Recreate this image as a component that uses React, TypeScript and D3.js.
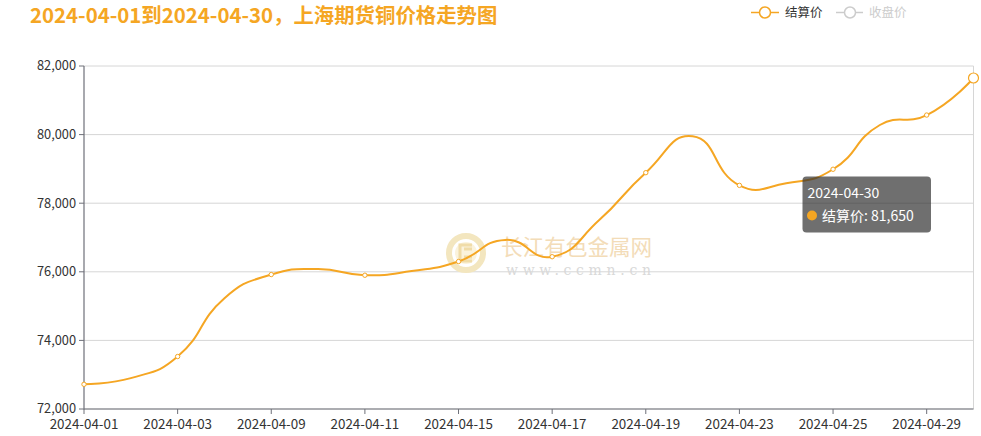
import React from "react";
import * as d3 from "d3";

const categories = [
  "2024-04-01", "2024-04-02", "2024-04-03", "2024-04-08", "2024-04-09",
  "2024-04-10", "2024-04-11", "2024-04-12", "2024-04-15", "2024-04-16",
  "2024-04-17", "2024-04-18", "2024-04-19", "2024-04-22", "2024-04-23",
  "2024-04-24", "2024-04-25", "2024-04-26", "2024-04-29", "2024-04-30",
];
const settlePrices = [
  72720, 72900, 73530, 75230, 75920,
  76080, 75900, 76020, 76300, 76930,
  76440, 77500, 78890, 79950, 78520,
  78580, 78990, 80280, 80570, 81650,
];
const yTicks = [72000, 74000, 76000, 78000, 80000, 82000];
const legendNames = ["结算价", "收盘价"];
const titleText = "2024-04-01到2024-04-30，上海期货铜价格走势图";
const tooltipIndex = 19;

const W = 981;
const H = 436;
const ORANGE = "#f5a623";
const FONT = "'Microsoft YaHei', 'Noto Sans CJK SC', 'Noto Sans', sans-serif";

// ECharts-4 style smooth curve (smooth = 0.5)
function echartsSmooth(smooth: number) {
  return function (context: any) {
    let pts: [number, number][] = [];
    return {
      areaStart() {},
      areaEnd() {},
      lineStart() {
        pts = [];
      },
      point(x: number, y: number) {
        pts.push([+x, +y]);
      },
      lineEnd() {
        const n = pts.length;
        if (!n) return;
        let minX = Infinity, minY = Infinity, maxX = -Infinity, maxY = -Infinity;
        pts.forEach(([x, y]) => {
          minX = Math.min(minX, x); maxX = Math.max(maxX, x);
          minY = Math.min(minY, y); maxY = Math.max(maxY, y);
        });
        const clamp = (v: number, a: number, b: number) => Math.max(a, Math.min(b, v));
        context.moveTo(pts[0][0], pts[0][1]);
        let cp0x = pts[0][0], cp0y = pts[0][1];
        for (let i = 1; i < n; i++) {
          const [x, y] = pts[i];
          const [px, py] = pts[i - 1];
          let cp1x = x, cp1y = y;
          let ratio = 0.5, vx = 0, vy = 0;
          if (i < n - 1) {
            const [nx, ny] = pts[i + 1];
            vx = nx - px; vy = ny - py;
            const lp = Math.hypot(x - px, y - py);
            const ln = Math.hypot(nx - x, ny - y);
            ratio = ln / (ln + lp);
            cp1x = x - vx * smooth * (1 - ratio);
            cp1y = y - vy * smooth * (1 - ratio);
          }
          cp0x = clamp(cp0x, minX, maxX); cp0y = clamp(cp0y, minY, maxY);
          cp1x = clamp(cp1x, minX, maxX); cp1y = clamp(cp1y, minY, maxY);
          context.bezierCurveTo(cp0x, cp0y, cp1x, cp1y, x, y);
          cp0x = x + vx * smooth * ratio;
          cp0y = y + vy * smooth * ratio;
        }
      },
    };
  };
}

export default function App() {
  const x = d3.scalePoint<string>().domain(categories).range([84, 973.5]);
  const y = d3.scaleLinear().domain([72000, 82000]).range([409, 66]);
  const fmt = d3.format(",");

  const line = d3
    .line<number>()
    .x((_, i) => x(categories[i]) as number)
    .y((d) => y(d))
    .curve(echartsSmooth(0.5) as any);

  const labelIdx = categories.map((_, i) => i).filter((i) => i % 2 === 0);
  const x0 = 84, x1 = 973.5;

  const tipX = 802.5, tipY = 176.5;

  return (
    <svg
      width={W}
      height={H}
      style={{ position: "absolute", left: 0, top: 0, background: "#fff" }}
      fontFamily={FONT}
    >
      {/* title */}
      <text x={30} y={22.5} fontSize={20.4} fontWeight="bold" fill={ORANGE}>
        {titleText}
      </text>

      {/* legend */}
      <g>
        <line x1={751} x2={779} y1={12.5} y2={12.5} stroke={ORANGE} strokeWidth={1.5} />
        <circle cx={765} cy={12.5} r={5.5} fill="#fff" stroke={ORANGE} strokeWidth={1.5} />
        <text x={785} y={17} fontSize={12.5} fill="#333">{legendNames[0]}</text>
        <line x1={836} x2={863} y1={12.5} y2={12.5} stroke="#ccc" strokeWidth={1.5} />
        <circle cx={850} cy={12.5} r={5.5} fill="#fff" stroke="#ccc" strokeWidth={1.5} />
        <text x={869} y={17} fontSize={12.5} fill="#ccc">{legendNames[1]}</text>
      </g>

      {/* grid */}
      {yTicks.map((t) => (
        <line key={t} x1={x0} x2={x1} y1={y(t)} y2={y(t)} stroke="#d6d6d6" strokeWidth={1} />
      ))}
      <line x1={x1} x2={x1} y1={y(82000)} y2={y(72000)} stroke="#d6d6d6" strokeWidth={1} />

      {/* watermark */}
      <g>
        <circle cx={466} cy={253} r={17} fill="none" stroke="#f3e6bf" strokeWidth={6} />
        <circle cx={466} cy={253} r={11} fill="#fbf3dc" />
        <path d="M472,245 H460 V261 H472 M464,249 H472 M464,257 H472" fill="none" stroke="#f0dca8" strokeWidth={3} />
        <text x={501} y={255} fontSize={21.6} fill="#f3dcb8">长江有色金属网</text>
        <text x={506} y={275} fontSize={14} fill="#d9d9d9" fontFamily="'DejaVu Serif', serif" letterSpacing={4.7}>
          www.ccmn.cn
        </text>
      </g>

      {/* y axis */}
      <line x1={x0} x2={x0} y1={y(82000)} y2={y(72000) + 0.5} stroke="#6e7079" strokeWidth={1.2} />
      {yTicks.map((t) => (
        <g key={t}>
          <line x1={x0 - 5} x2={x0} y1={y(t)} y2={y(t)} stroke="#6e7079" />
          <text x={76} y={y(t)} dy="0.35em" textAnchor="end" fontSize={12.8} fill="#333">
            {fmt(t)}
          </text>
        </g>
      ))}

      {/* x axis */}
      <line x1={x0} x2={x1} y1={y(72000)} y2={y(72000)} stroke="#6e7079" strokeWidth={1.2} />
      {labelIdx.map((i) => {
        const cx = x(categories[i]) as number;
        return (
          <g key={i}>
            <line x1={cx} x2={cx} y1={y(72000)} y2={y(72000) + 5} stroke="#6e7079" />
            <text x={cx} y={428.5} textAnchor="middle" fontSize={13.4} fill="#333">
              {categories[i]}
            </text>
          </g>
        );
      })}

      {/* series line */}
      <path d={line(settlePrices) || ""} fill="none" stroke={ORANGE} strokeWidth={2} />
      {labelIdx.map((i) => (
        <circle
          key={i}
          cx={x(categories[i]) as number}
          cy={y(settlePrices[i])}
          r={2.2}
          fill="#fff"
          stroke={ORANGE}
          strokeWidth={1}
        />
      ))}
      <circle
        cx={x(categories[tooltipIndex]) as number}
        cy={y(settlePrices[tooltipIndex])}
        r={5}
        fill="#fff"
        stroke={ORANGE}
        strokeWidth={1.2}
      />

      {/* tooltip */}
      <g>
        <rect x={tipX} y={tipY} width={128.5} height={56} rx={4} fill="rgba(50,50,50,0.7)" />
        <text x={tipX + 5} y={tipY + 21} fontSize={14} fill="#fff">
          {categories[tooltipIndex]}
        </text>
        <circle cx={tipX + 9.5} cy={tipY + 39} r={5} fill={ORANGE} />
        <text x={tipX + 19.5} y={tipY + 44} fontSize={14} fill="#fff">
          {`${legendNames[0]}: ${fmt(settlePrices[tooltipIndex])}`}
        </text>
      </g>
    </svg>
  );
}
